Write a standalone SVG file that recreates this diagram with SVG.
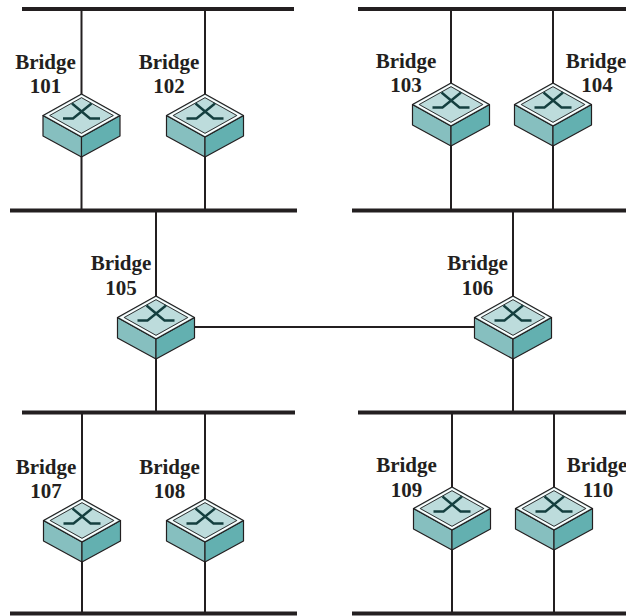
<svg xmlns="http://www.w3.org/2000/svg" xmlns:xlink="http://www.w3.org/1999/xlink" width="626" height="616" viewBox="0 0 626 616">
<style>
.bus{stroke:#231f20;stroke-width:4;fill:none}
.wire{stroke:#231f20;stroke-width:2;fill:none}
.lbl{font-family:"Liberation Serif","Times New Roman",serif;font-weight:bold;font-size:21px;fill:#231f20;text-anchor:middle}
</style>
<defs>
<g id="bridge">
<polygon points="-38.5,21.5 0,43 0,63 -38.5,42" fill="#86bfbf" stroke="#231f20" stroke-width="1.2" stroke-linejoin="round"/>
<polygon points="38.5,21.5 0,43 0,63 38.5,42" fill="#63b0b0" stroke="#231f20" stroke-width="1.2" stroke-linejoin="round"/>
<polygon points="0,0 38.5,21.5 0,43 -38.5,21.5" fill="#bddcdc" stroke="#231f20" stroke-width="1.2" stroke-linejoin="round"/>
<polygon points="0,2.1 34.7,21.5 0,40.9 -34.7,21.5" fill="none" stroke="#ffffff" stroke-width="1.5"/>
<polygon points="0,3.7 31.8,21.5 0,39.3 -31.8,21.5" fill="none" stroke="#231f20" stroke-width="0.9"/>
<polyline points="-9.5,9.5 8.5,24.5 18.5,24.5" fill="none" stroke="#143f3f" stroke-width="2.4"/>
<polyline points="10,9.5 -8.5,24.5 -18.5,24.5" fill="none" stroke="#143f3f" stroke-width="2.4"/>
</g>
</defs>
<g id="lans">
<line class="bus" x1="22" y1="9" x2="294" y2="9"/>
<line class="bus" x1="358" y1="9" x2="626" y2="9"/>
<line class="bus" x1="10" y1="210.5" x2="297" y2="210.5"/>
<line class="bus" x1="352" y1="210.5" x2="626" y2="210.5"/>
<line class="bus" x1="22" y1="412.5" x2="295" y2="412.5"/>
<line class="bus" x1="358" y1="412.5" x2="626" y2="412.5"/>
<line class="bus" x1="10" y1="613.5" x2="297" y2="613.5"/>
<line class="bus" x1="352" y1="613.5" x2="626" y2="613.5"/>
</g>
<g id="connectors">
<line class="wire" x1="81.5" y1="9" x2="81.5" y2="210.5"/>
<line class="wire" x1="205" y1="9" x2="205" y2="210.5"/>
<line class="wire" x1="451" y1="9" x2="451" y2="210.5"/>
<line class="wire" x1="553" y1="9" x2="553" y2="210.5"/>
<line class="wire" x1="156" y1="210.5" x2="156" y2="412.5"/>
<line class="wire" x1="513" y1="210.5" x2="513" y2="412.5"/>
<line class="wire" x1="82" y1="412.5" x2="82" y2="613.5"/>
<line class="wire" x1="205" y1="412.5" x2="205" y2="613.5"/>
<line class="wire" x1="452" y1="412.5" x2="452" y2="613.5"/>
<line class="wire" x1="554" y1="412.5" x2="554" y2="613.5"/>
<line class="wire" x1="194" y1="327" x2="475" y2="327"/>
</g>
<g id="bridge101"><use xlink:href="#bridge" href="#bridge" x="81.5" y="94"/><text class="lbl" x="45.5" y="69">Bridge</text><text class="lbl" x="45.5" y="93">101</text></g>
<g id="bridge102"><use xlink:href="#bridge" href="#bridge" x="205" y="94"/><text class="lbl" x="169" y="69">Bridge</text><text class="lbl" x="169" y="93">102</text></g>
<g id="bridge103"><use xlink:href="#bridge" href="#bridge" x="451" y="83"/><text class="lbl" x="406" y="68">Bridge</text><text class="lbl" x="406" y="92">103</text></g>
<g id="bridge104"><use xlink:href="#bridge" href="#bridge" x="553" y="83"/><text class="lbl" x="596" y="68">Bridge</text><text class="lbl" x="597" y="92">104</text></g>
<g id="bridge105"><use xlink:href="#bridge" href="#bridge" x="156" y="296"/><text class="lbl" x="121" y="270">Bridge</text><text class="lbl" x="121" y="295">105</text></g>
<g id="bridge106"><use xlink:href="#bridge" href="#bridge" x="513" y="296"/><text class="lbl" x="477.5" y="270">Bridge</text><text class="lbl" x="477.5" y="295">106</text></g>
<g id="bridge107"><use xlink:href="#bridge" href="#bridge" x="82" y="499"/><text class="lbl" x="46" y="474">Bridge</text><text class="lbl" x="46" y="498">107</text></g>
<g id="bridge108"><use xlink:href="#bridge" href="#bridge" x="205" y="499"/><text class="lbl" x="169.5" y="474">Bridge</text><text class="lbl" x="169.5" y="498">108</text></g>
<g id="bridge109"><use xlink:href="#bridge" href="#bridge" x="452" y="487"/><text class="lbl" x="406.5" y="472">Bridge</text><text class="lbl" x="406.5" y="497">109</text></g>
<g id="bridge110"><use xlink:href="#bridge" href="#bridge" x="554" y="487"/><text class="lbl" x="597" y="472">Bridge</text><text class="lbl" x="598" y="497">110</text></g>
</svg>
